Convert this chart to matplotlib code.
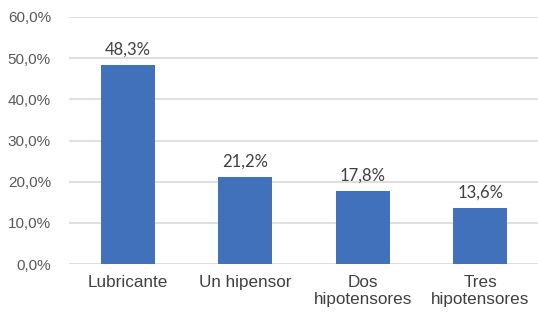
import numpy as np
import matplotlib.pyplot as plt
from matplotlib.ticker import FuncFormatter

categories = ['Lubricante', 'Un hipensor', 'Dos\nhipotensores', 'Tres\nhipotensores']
values = [48.3, 21.2, 17.8, 13.6]
bar_color = '#4271BC'

fig = plt.figure(figsize=(5.38, 3.13), dpi=100)
ax = fig.add_axes([69 / 538, 49 / 313, 470 / 538, 247 / 313])

x = np.arange(len(categories))
ax.bar(x, values, width=0.46, color=bar_color, zorder=3)

for xi, v in zip(x, values):
    ax.text(xi, v + 1.8, f'{v:.1f}%'.replace('.', ','), ha='center', va='bottom',
            fontsize=12, color='#404040', family='Lato')

ax.set_xlim(-0.5, 3.5)
ax.set_ylim(0, 60)
ax.set_yticks(np.arange(0, 61, 10))
ax.yaxis.set_major_formatter(FuncFormatter(lambda v, p: f'{v:.1f}%'.replace('.', ',')))
ax.set_xticks(x)
ax.set_xticklabels(categories, fontsize=12.3, color='#404040', family='Liberation Sans',
                   linespacing=1.15)
ax.tick_params(axis='y', labelsize=11, labelcolor='#595959', length=0, pad=13)
ax.tick_params(axis='x', length=0, pad=8)
for lbl in ax.get_yticklabels():
    lbl.set_family('Liberation Sans')

ax.grid(axis='y', color='#D9D9D9', linewidth=1.2, zorder=0)
for s in ax.spines.values():
    s.set_visible(False)

fig.savefig('out.png', dpi=100)
